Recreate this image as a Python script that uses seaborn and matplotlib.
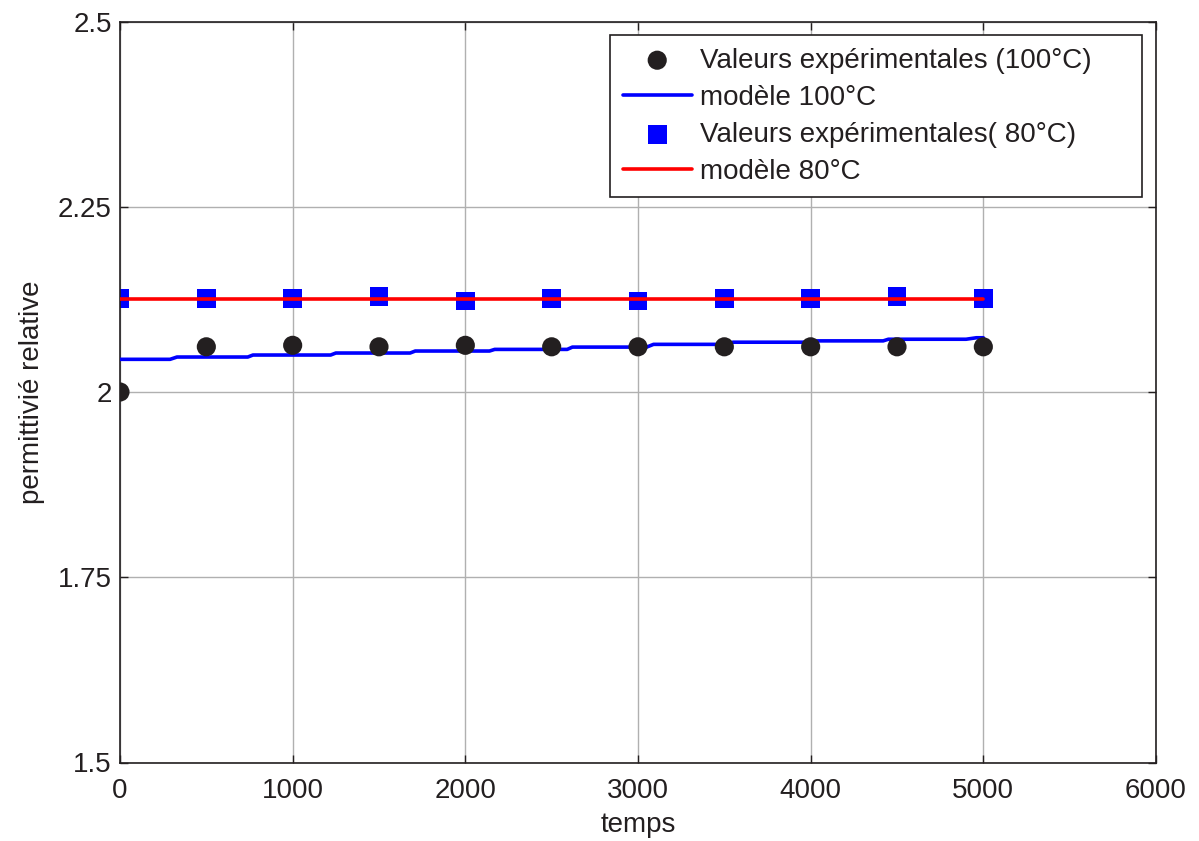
import matplotlib
matplotlib.use("Agg")
import matplotlib.pyplot as plt
import seaborn as sns
import pandas as pd

# Data
temps_exp = [0, 500, 1000, 1500, 2000, 2500, 3000, 3500, 4000, 4500, 5000]
exp_100 = [2.000, 2.061, 2.063, 2.061, 2.063, 2.061, 2.061, 2.061, 2.061, 2.061, 2.061]
exp_80 = [2.126, 2.126, 2.126, 2.129, 2.123, 2.126, 2.123, 2.126, 2.126, 2.129, 2.126]

# model 100°C (step-like curve, breakpoints)
temps_m100 = [0, 290, 330, 740, 770, 1220, 1250, 1680, 1710, 2140, 2170, 2590,
              2620, 3050, 3090, 3520, 3550, 3970, 4000, 4420, 4450, 4900, 4960, 5000]
model_100 = [2.0441, 2.0441, 2.0472, 2.0472, 2.0499, 2.0499, 2.0526, 2.0526,
             2.0553, 2.0553, 2.0575, 2.0575, 2.0606, 2.0606, 2.0643, 2.0643,
             2.0672, 2.0672, 2.0690, 2.0690, 2.0712, 2.0712, 2.0732, 2.0732]
temps_m80 = [0, 5000]
model_80 = [2.125, 2.125]

labels = ["Valeurs expérimentales (100°C)", "modèle 100°C",
          "Valeurs expérimentales( 80°C)", "modèle 80°C"]
xticks = [0, 1000, 2000, 3000, 4000, 5000, 6000]
yticks = [1.5, 1.75, 2.0, 2.25, 2.5]
ytick_labels = ["1.5", "1.75", "2", "2.25", "2.5"]

sns.set_theme(style="white")
plt.rcParams['font.family'] = ['Liberation Sans', 'DejaVu Sans']

fig = plt.figure(figsize=(11.99, 8.41), dpi=100)
ax = fig.add_axes([120/1199, (841-762.5)/841, (1156-120)/1199, (762.5-21.5)/841])

df_e100 = pd.DataFrame({"t": temps_exp, "v": exp_100})
df_e80 = pd.DataFrame({"t": temps_exp, "v": exp_80})
df_m100 = pd.DataFrame({"t": temps_m100, "v": model_100})
df_m80 = pd.DataFrame({"t": temps_m80, "v": model_80})

sns.lineplot(data=df_m80, x="t", y="v", ax=ax, color="#ff0000", linewidth=2.6,
             label=labels[3], zorder=3, sort=True)
sns.lineplot(data=df_m100, x="t", y="v", ax=ax, color="#0000ff", linewidth=2.6,
             label=labels[1], zorder=3, sort=True)
sns.scatterplot(data=df_e100, x="t", y="v", ax=ax, color="#231f20", marker="o",
                s=190, edgecolor="none", label=labels[0], zorder=4)
sns.scatterplot(data=df_e80, x="t", y="v", ax=ax, color="#0000ff", marker="s",
                s=180, edgecolor="none", label=labels[2], zorder=2)

ax.set_xlim(0, 6000)
ax.set_ylim(1.5, 2.5)
ax.set_xticks(xticks)
ax.set_xticklabels([str(x) for x in xticks])
ax.set_yticks(yticks)
ax.set_yticklabels(ytick_labels)
ax.grid(True, color="#b0b0b0", linewidth=1.0, linestyle="-")
ax.set_axisbelow(True)
ax.tick_params(axis="both", which="both", direction="in", length=6, width=1,
               top=True, right=True, bottom=True, left=True,
               labelsize=20, colors="#231f20")
ax.tick_params(axis="x", pad=11)
ax.tick_params(axis="y", pad=6)
for s in ax.spines.values():
    s.set_color("#231f20")
    s.set_linewidth(1.2)
    s.set_visible(True)

ax.set_xlabel("temps", fontsize=20, color="#231f20", labelpad=6)
ax.set_ylabel("permittivié relative", fontsize=20, color="#231f20", labelpad=9)

handles, labs = ax.get_legend_handles_labels()
order = [labs.index(l) for l in labels]
leg = ax.legend([handles[i] for i in order], [labs[i] for i in order],
                loc="upper left",
                bbox_to_anchor=(610/1199, (841-198)/841, 532/1199, 163/841),
                bbox_transform=fig.transFigure, mode="expand",
                fontsize=20, frameon=True,
                fancybox=False, edgecolor="#231f20", framealpha=1,
                borderpad=0.45, labelspacing=0.4, handlelength=2.5,
                handletextpad=0.3, borderaxespad=0)
leg.get_frame().set_linewidth(1.2)
for t in leg.get_texts():
    t.set_color("#231f20")

fig.savefig("out.png", dpi=100)
